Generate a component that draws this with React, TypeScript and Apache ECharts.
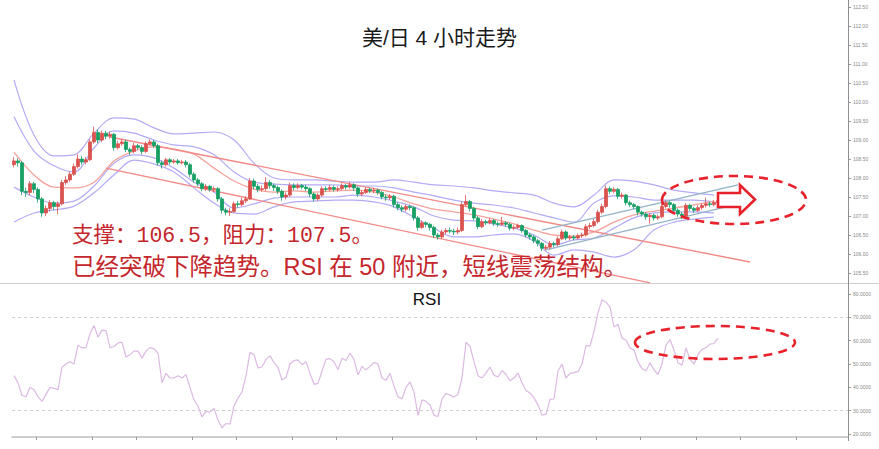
import React, { useEffect, useRef } from "react";
import * as echarts from "echarts";

// ---------- data ----------
const slotCount = 209; // candle slots across the price panel (incl. empty future space)
const categories = Array.from({ length: slotCount }, (_, i) => String(i));

// [open, close, low, high]
const candles: number[][] = [
  [108.35, 108.45, 108.28, 108.55], [108.45, 108.40, 108.30, 108.52], [108.40, 107.65, 107.55, 108.45], [107.65, 107.62, 107.50, 107.75],
  [107.62, 107.85, 107.55, 107.92], [107.85, 107.70, 107.60, 107.90], [107.70, 107.45, 107.35, 107.75], [107.45, 107.08, 106.98, 107.50],
  [107.08, 107.20, 107.00, 107.28], [107.20, 107.35, 107.12, 107.42], [107.35, 107.25, 107.15, 107.40], [107.25, 107.32, 107.05, 107.38],
  [107.32, 107.88, 107.28, 107.95], [107.88, 107.95, 107.82, 108.05], [107.95, 108.10, 107.90, 108.18], [108.10, 108.30, 108.05, 108.38],
  [108.30, 108.50, 108.25, 108.62], [108.50, 108.42, 108.35, 108.58], [108.42, 108.48, 108.36, 108.55], [108.48, 108.95, 108.45, 109.02],
  [108.95, 109.20, 108.90, 109.35], [109.20, 109.00, 108.92, 109.28], [109.00, 109.18, 108.95, 109.25], [109.18, 109.10, 109.02, 109.24],
  [109.10, 109.15, 109.04, 109.22], [109.15, 108.80, 108.72, 109.18], [108.80, 108.90, 108.75, 108.98], [108.90, 108.95, 108.85, 109.02],
  [108.95, 108.75, 108.68, 109.00], [108.75, 108.70, 108.60, 108.80], [108.70, 108.85, 108.65, 108.92], [108.85, 108.80, 108.74, 108.90],
  [108.80, 108.70, 108.62, 108.86], [108.70, 108.90, 108.66, 108.96], [108.90, 108.95, 108.86, 109.02], [108.95, 108.85, 108.80, 109.00],
  [108.85, 108.40, 108.32, 108.90], [108.40, 108.35, 108.25, 108.46], [108.35, 108.48, 108.30, 108.53], [108.48, 108.42, 108.36, 108.52],
  [108.42, 108.45, 108.38, 108.50], [108.45, 108.40, 108.35, 108.50], [108.40, 108.42, 108.36, 108.48], [108.42, 108.35, 108.28, 108.47],
  [108.35, 108.10, 108.02, 108.40], [108.10, 107.95, 107.88, 108.15], [107.95, 107.85, 107.78, 108.00], [107.85, 107.72, 107.65, 107.90],
  [107.72, 107.78, 107.66, 107.84], [107.78, 107.70, 107.64, 107.82], [107.70, 107.72, 107.62, 107.78], [107.72, 107.45, 107.38, 107.76],
  [107.45, 107.15, 107.06, 107.50], [107.15, 107.10, 107.02, 107.22], [107.10, 107.12, 107.00, 107.20], [107.12, 107.32, 107.08, 107.38],
  [107.32, 107.30, 107.22, 107.40], [107.30, 107.40, 107.25, 107.48], [107.40, 107.45, 107.34, 107.52], [107.45, 107.92, 107.42, 108.00],
  [107.92, 107.78, 107.70, 107.98], [107.78, 107.70, 107.62, 107.84], [107.70, 107.72, 107.64, 107.80], [107.72, 107.88, 107.66, 108.02],
  [107.88, 107.80, 107.72, 107.94], [107.80, 107.75, 107.66, 107.86], [107.75, 107.65, 107.58, 107.80], [107.65, 107.50, 107.40, 107.70],
  [107.50, 107.55, 107.44, 107.62], [107.55, 107.80, 107.50, 107.88], [107.80, 107.75, 107.68, 107.86], [107.75, 107.80, 107.70, 107.86],
  [107.80, 107.76, 107.70, 107.84], [107.76, 107.72, 107.66, 107.82], [107.72, 107.58, 107.50, 107.76], [107.58, 107.45, 107.38, 107.62],
  [107.45, 107.55, 107.40, 107.60], [107.55, 107.72, 107.50, 107.78], [107.72, 107.70, 107.64, 107.78], [107.70, 107.75, 107.65, 107.82],
  [107.75, 107.70, 107.64, 107.80], [107.70, 107.72, 107.64, 107.78], [107.72, 107.80, 107.68, 107.86], [107.80, 107.76, 107.70, 107.84],
  [107.76, 107.82, 107.72, 107.90], [107.82, 107.74, 107.66, 107.86], [107.74, 107.58, 107.50, 107.78], [107.58, 107.62, 107.52, 107.68],
  [107.62, 107.70, 107.58, 107.76], [107.70, 107.66, 107.60, 107.74], [107.66, 107.68, 107.60, 107.74], [107.68, 107.62, 107.56, 107.72],
  [107.62, 107.50, 107.44, 107.66], [107.50, 107.48, 107.40, 107.56], [107.48, 107.52, 107.42, 107.58], [107.52, 107.30, 107.22, 107.56],
  [107.30, 107.22, 107.15, 107.36], [107.22, 107.18, 107.10, 107.28], [107.18, 107.25, 107.12, 107.30], [107.25, 107.22, 107.15, 107.30],
  [107.22, 106.95, 106.88, 107.26], [106.95, 106.70, 106.62, 107.00], [106.70, 106.82, 106.66, 106.88], [106.82, 106.78, 106.70, 106.86],
  [106.78, 106.70, 106.62, 106.82], [106.70, 106.50, 106.42, 106.74], [106.50, 106.45, 106.38, 106.55], [106.45, 106.58, 106.40, 106.64],
  [106.58, 106.62, 106.52, 106.68], [106.62, 106.60, 106.54, 106.70], [106.60, 106.58, 106.50, 106.66], [106.58, 106.62, 106.52, 106.70],
  [106.62, 107.30, 106.58, 107.38], [107.30, 107.38, 107.25, 107.55], [107.38, 107.20, 107.12, 107.42], [107.20, 106.95, 106.88, 107.24],
  [106.95, 106.72, 106.65, 107.00], [106.72, 106.85, 106.68, 106.92], [106.85, 106.82, 106.76, 106.90], [106.82, 106.88, 106.78, 106.94],
  [106.88, 106.80, 106.74, 106.92], [106.80, 106.78, 106.72, 106.86], [106.78, 106.82, 106.74, 106.98], [106.82, 106.78, 106.72, 106.86],
  [106.78, 106.68, 106.62, 106.82], [106.68, 106.70, 106.62, 106.76], [106.70, 106.75, 106.66, 106.80], [106.75, 106.62, 106.56, 106.78],
  [106.62, 106.50, 106.44, 106.66], [106.50, 106.45, 106.38, 106.55], [106.45, 106.35, 106.28, 106.50], [106.35, 106.28, 106.20, 106.40],
  [106.28, 106.15, 106.08, 106.32], [106.15, 106.18, 106.10, 106.24], [106.18, 106.28, 106.12, 106.34], [106.28, 106.25, 106.18, 106.32],
  [106.25, 106.40, 106.20, 106.46], [106.40, 106.58, 106.36, 106.64], [106.58, 106.42, 106.36, 106.62], [106.42, 106.45, 106.36, 106.50],
  [106.45, 106.42, 106.36, 106.50], [106.42, 106.48, 106.38, 106.54], [106.48, 106.50, 106.42, 106.56], [106.50, 106.72, 106.46, 106.78],
  [106.72, 106.75, 106.66, 106.82], [106.75, 106.85, 106.70, 106.92], [106.85, 107.10, 106.80, 107.16], [107.10, 107.25, 107.05, 107.32],
  [107.25, 107.72, 107.20, 107.80], [107.72, 107.65, 107.58, 107.78], [107.65, 107.70, 107.60, 107.76], [107.70, 107.52, 107.45, 107.74],
  [107.52, 107.55, 107.46, 107.62], [107.55, 107.35, 107.28, 107.58], [107.35, 107.30, 107.24, 107.40], [107.30, 107.25, 107.18, 107.34],
  [107.25, 107.10, 107.02, 107.28], [107.10, 107.05, 106.98, 107.14], [107.05, 106.98, 106.90, 107.10], [106.98, 107.02, 106.80, 107.08],
  [107.02, 106.95, 106.88, 107.06], [106.95, 106.98, 106.90, 107.04], [106.98, 107.25, 106.94, 107.32], [107.25, 107.35, 107.20, 107.42],
  [107.35, 107.30, 107.22, 107.40], [107.30, 107.15, 107.08, 107.34], [107.15, 107.05, 106.98, 107.20], [107.05, 107.00, 106.92, 107.10],
  [107.00, 107.28, 106.96, 107.34], [107.28, 107.20, 107.14, 107.32], [107.20, 107.15, 107.08, 107.24], [107.15, 107.22, 107.10, 107.28],
  [107.22, 107.28, 107.16, 107.34], [107.28, 107.32, 107.22, 107.48], [107.32, 107.30, 107.24, 107.38], [107.30, 107.36, 107.26, 107.42],
  [107.36, 107.40, 107.32, 107.46],
];

// RSI, one value per candle
const rsiValues = [
  45, 42, 36.5, 36, 40, 39, 36, 34, 37, 40,
  39.5, 39, 48.5, 50, 51, 50, 58, 57, 57, 63,
  66.5, 61.5, 64.5, 64.3, 57, 57.5, 59, 59.4, 53, 54,
  55.5, 55.5, 52.5, 55.5, 57, 56.5, 54.7, 42, 46, 44,
  44, 45, 44, 45.4, 40, 34.5, 32, 27.3, 29.7, 29.4,
  31, 26, 22.6, 24.5, 24.2, 32, 35.5, 38, 45, 55,
  54, 48.3, 48.7, 52, 53.5, 50.7, 48.5, 43.1, 44.3, 50,
  51.5, 51.8, 49.7, 51, 46, 41.3, 41.7, 47, 52, 52.3,
  51, 47.6, 52.5, 51.5, 54.7, 52, 45.3, 49, 47.5, 49,
  50.7, 50, 44, 43, 46, 40.5, 36, 35, 40, 42.3,
  38, 28, 34.6, 34, 32.4, 28, 27.5, 35, 37.3, 36.7,
  35.8, 37, 44, 59.4, 57.5, 51, 45, 44, 46.2, 48.7,
  45.2, 44.5, 47.2, 45.5, 42.8, 44, 46.1, 42, 38.6, 37.6,
  35.5, 32.5, 28.1, 28.5, 34.8, 35, 47, 50, 44, 46,
  46.3, 46.7, 50, 58, 57.6, 64, 72, 77.5, 76.5, 74.5,
  65.9, 67, 61.1, 60.2, 56.9, 56, 50.9, 48, 47, 50.5,
  47.5, 45.5, 50, 58, 60.5, 56, 50.5, 49.5, 56.9, 52,
  50, 54, 56.3, 57, 58.5, 58.8, 61.1,
];

// Bollinger-style envelopes and moving average, read every 5 candles
const bandIdx = [0, 5, 10, 15, 20, 25, 30, 35, 40, 45, 50, 55, 60, 65, 70, 75, 80, 85, 90, 95, 100, 105, 110, 115, 120, 125, 130, 135, 140, 145, 150, 155, 160, 165, 170, 175];
const bandUpper2 = [110.58, 109.13, 108.58, 108.61, 109.18, 109.58, 109.55, 109.32, 109.16, 109.18, 109.21, 109.0, 108.39, 108.0, 107.95, 107.95, 107.92, 107.89, 107.89, 107.95, 107.89, 107.82, 107.79, 107.74, 107.66, 107.61, 107.55, 107.34, 107.24, 107.55, 107.95, 107.92, 107.82, 107.68, 107.61, 107.55];
const bandUpper1 = [109.61, 108.71, 108.32, 108.16, 108.79, 109.24, 109.18, 109.0, 108.87, 108.82, 108.61, 108.16, 107.89, 107.84, 107.82, 107.82, 107.82, 107.79, 107.79, 107.74, 107.63, 107.53, 107.42, 107.34, 107.29, 107.21, 107.08, 106.95, 106.84, 107.34, 107.53, 107.50, 107.42, 107.42, 107.42, 107.37];
const bandLower1 = [107.76, 107.50, 107.34, 107.39, 107.79, 108.39, 108.61, 108.53, 108.26, 107.89, 107.63, 107.21, 107.32, 107.47, 107.50, 107.50, 107.50, 107.55, 107.50, 107.39, 107.24, 107.0, 106.89, 106.87, 106.79, 106.68, 106.50, 106.24, 106.37, 106.42, 106.68, 106.95, 107.08, 107.11, 107.11, 107.08];
const bandLower2 = [106.84, 107.08, 107.16, 107.26, 107.61, 108.08, 108.47, 108.37, 108.16, 107.74, 107.34, 107.08, 107.05, 107.24, 107.37, 107.39, 107.42, 107.42, 107.37, 107.24, 106.97, 106.68, 106.45, 106.45, 106.50, 106.53, 106.34, 105.97, 106.11, 106.05, 105.92, 106.11, 106.63, 106.84, 106.92, 106.97];
const movingAvg = [108.68, 108.08, 107.76, 107.74, 107.89, 108.45, 108.71, 108.82, 108.76, 108.63, 108.26, 107.92, 107.71, 107.63, 107.66, 107.63, 107.66, 107.68, 107.63, 107.50, 107.32, 107.18, 107.11, 107.03, 106.92, 106.79, 106.63, 106.50, 106.47, 106.58, 106.84, 107.03, 107.13, 107.21, 107.29, 107.39];

// trend lines: [candle index, price]
const downTrendUpper = [[24, 109.08], [184, 105.79]];
const downTrendLower = [[23, 108.26], [159, 105.24]];
const upChannelUpper = [[132, 106.63], [181, 107.82]];
const upChannelLower = [[133, 106.11], [182, 107.34]];

const priceMin = 105.5, priceMax = 112.5, priceStep = 0.5;
const rsiMin = 20, rsiMax = 80, rsiStep = 10;
const rsiGuides = [70, 30];
const timeTickIdx = [6, 20, 31, 45, 56, 70, 81, 95, 116, 131, 146, 157, 171, 182, 196];

const titleText = "美/日 4 小时走势";
const noteLine1 = "支撑：106.5，阻力：107.5。";
const noteLine2 = "已经突破下降趋势。RSI 在 50 附近，短线震荡结构。";

// ---------- styles ----------
const PURPLE = "#b3abf6";
const SALMON = "#f6a39b";
const TREND_RED = "#f38a86";
const TREND_BLUE = "#96b3c9";
const UP = "#d9534f";
const DOWN = "#16a064";
const ANNOT = "#e8212b";

function pairs(idx: number[], vals: number[]) {
  return idx.map((x, k) => [x, vals[k]]);
}

function bandSeries(vals: number[], color: string, width = 1.2) {
  return {
    type: "line",
    xAxisIndex: 0,
    yAxisIndex: 0,
    data: pairs(bandIdx, vals),
    smooth: 0.35,
    showSymbol: false,
    symbol: "none",
    silent: true,
    lineStyle: { color, width },
    z: 2,
  };
}

function trendSeries(pts: number[][], color: string) {
  return {
    type: "line",
    xAxisIndex: 0,
    yAxisIndex: 0,
    data: pts,
    showSymbol: false,
    symbol: "none",
    silent: true,
    clip: false,
    lineStyle: { color, width: 1.4 },
    z: 3,
  };
}

export default function App() {
  const ref = useRef<HTMLDivElement>(null);
  useEffect(() => {
    const chart = echarts.init(ref.current!, null, { renderer: "svg" });
    const axisLabelFont = { fontSize: 5, color: "#8a8a8a", fontFamily: "'Liberation Sans', Arial, sans-serif" };
    const option: any = {
      animation: false,
      backgroundColor: "#ffffff",
      title: {
        text: titleText,
        left: "center",
        top: 22,
        textStyle: { fontSize: 21, fontWeight: "normal", color: "#1a1a1a", fontFamily: "'Liberation Sans', 'Noto Sans CJK SC', sans-serif" },
      },
      grid: [
        { left: 12, right: 31, top: 7, height: 266 },
        { left: 12, right: 31, top: 294, height: 140 },
      ],
      xAxis: [
        { type: "category", gridIndex: 0, data: categories, boundaryGap: true, show: false },
        {
          type: "category",
          gridIndex: 1,
          data: categories,
          boundaryGap: true,
          offset: 3,
          axisLine: { show: true, lineStyle: { color: "#bdbdbd", width: 1.5 } },
          axisTick: { show: true, length: 3, interval: (i: number) => timeTickIdx.includes(i), lineStyle: { color: "#9a9a9a" } },
          axisLabel: { show: false },
          splitLine: { show: false },
        },
      ],
      yAxis: [
        {
          type: "value",
          gridIndex: 0,
          position: "right",
          min: priceMin,
          max: priceMax,
          interval: priceStep,
          axisLine: { show: false },
          axisTick: { show: true, length: 3, lineStyle: { color: "#9a9a9a" } },
          axisLabel: { ...axisLabelFont, margin: 5, formatter: (v: number) => v.toFixed(2) },
          splitLine: { show: false },
        },
        {
          type: "value",
          gridIndex: 1,
          position: "right",
          min: rsiMin,
          max: rsiMax,
          interval: rsiStep,
          axisLine: { show: false },
          axisTick: { show: true, length: 3, lineStyle: { color: "#9a9a9a" } },
          axisLabel: { ...axisLabelFont, margin: 5, formatter: (v: number) => v.toFixed(4) },
          splitLine: { show: false },
        },
      ],
      series: [
        bandSeries(bandUpper2, PURPLE),
        bandSeries(bandUpper1, PURPLE),
        bandSeries(bandLower1, PURPLE),
        bandSeries(bandLower2, PURPLE),
        bandSeries(movingAvg, SALMON, 1.3),
        trendSeries(downTrendUpper, TREND_RED),
        trendSeries(downTrendLower, TREND_RED),
        trendSeries(upChannelUpper, TREND_BLUE),
        trendSeries(upChannelLower, TREND_BLUE),
        {
          type: "candlestick",
          xAxisIndex: 0,
          yAxisIndex: 0,
          data: candles,
          barWidth: 3,
          z: 5,
          itemStyle: { color: UP, color0: DOWN, borderColor: UP, borderColor0: DOWN, borderWidth: 0.8 },
        },
        {
          type: "line",
          xAxisIndex: 1,
          yAxisIndex: 1,
          data: rsiValues,
          showSymbol: false,
          symbol: "none",
          lineStyle: { color: "#dcb9e3", width: 1.2 },
          markLine: {
            silent: true,
            symbol: ["none", "none"],
            label: { show: false },
            lineStyle: { color: "#cfcfcf", type: [3, 3], width: 1 },
            data: rsiGuides.map((v) => ({ yAxis: v })),
          },
        },
      ],
      graphic: [
        { type: "line", shape: { x1: 0, y1: 283.5, x2: 879, y2: 283.5 }, style: { stroke: "#cfcfcf", lineWidth: 1 }, z: 1 },
        { type: "line", shape: { x1: 848.5, y1: 0, x2: 848.5, y2: 441 }, style: { stroke: "#8f8f8f", lineWidth: 1 }, z: 1 },
        {
          type: "text",
          x: 427,
          y: 299,
          style: { text: "RSI", fill: "#111", font: "17px 'Liberation Sans', Arial, sans-serif", align: "center", verticalAlign: "middle" },
          z: 50,
        },
        {
          type: "text",
          x: 72,
          y: 236,
          style: { text: noteLine1, fill: "#c4262c", font: "21.5px 'Liberation Mono', 'Noto Sans CJK SC', monospace", verticalAlign: "middle" },
          z: 50,
        },
        {
          type: "text",
          x: 72,
          y: 267,
          style: { text: noteLine2, fill: "#c4262c", font: "23.5px 'Liberation Sans', 'Noto Sans CJK SC', sans-serif", verticalAlign: "middle" },
          z: 50,
        },
        {
          type: "ellipse",
          shape: { cx: 734, cy: 200, rx: 72, ry: 24 },
          style: { fill: "none", stroke: ANNOT, lineWidth: 2.6, lineDash: [9, 6] },
          z: 40,
        },
        {
          type: "ellipse",
          shape: { cx: 715, cy: 342.5, rx: 80, ry: 16.5 },
          style: { fill: "none", stroke: ANNOT, lineWidth: 2.6, lineDash: [9, 6] },
          z: 40,
        },
        {
          type: "polygon",
          shape: { points: [[718, 193], [740, 193], [740, 185], [755, 199.5], [740, 214], [740, 207], [718, 207]] },
          style: { fill: "#ffffff", stroke: ANNOT, lineWidth: 2.6 },
          z: 45,
        },
      ],
    };
    chart.setOption(option);
    return () => chart.dispose();
  }, []);
  return (
    <div
      ref={ref}
      style={{ position: "fixed", left: 0, top: 0, width: 879, height: 449, background: "#fff" }}
    />
  );
}
